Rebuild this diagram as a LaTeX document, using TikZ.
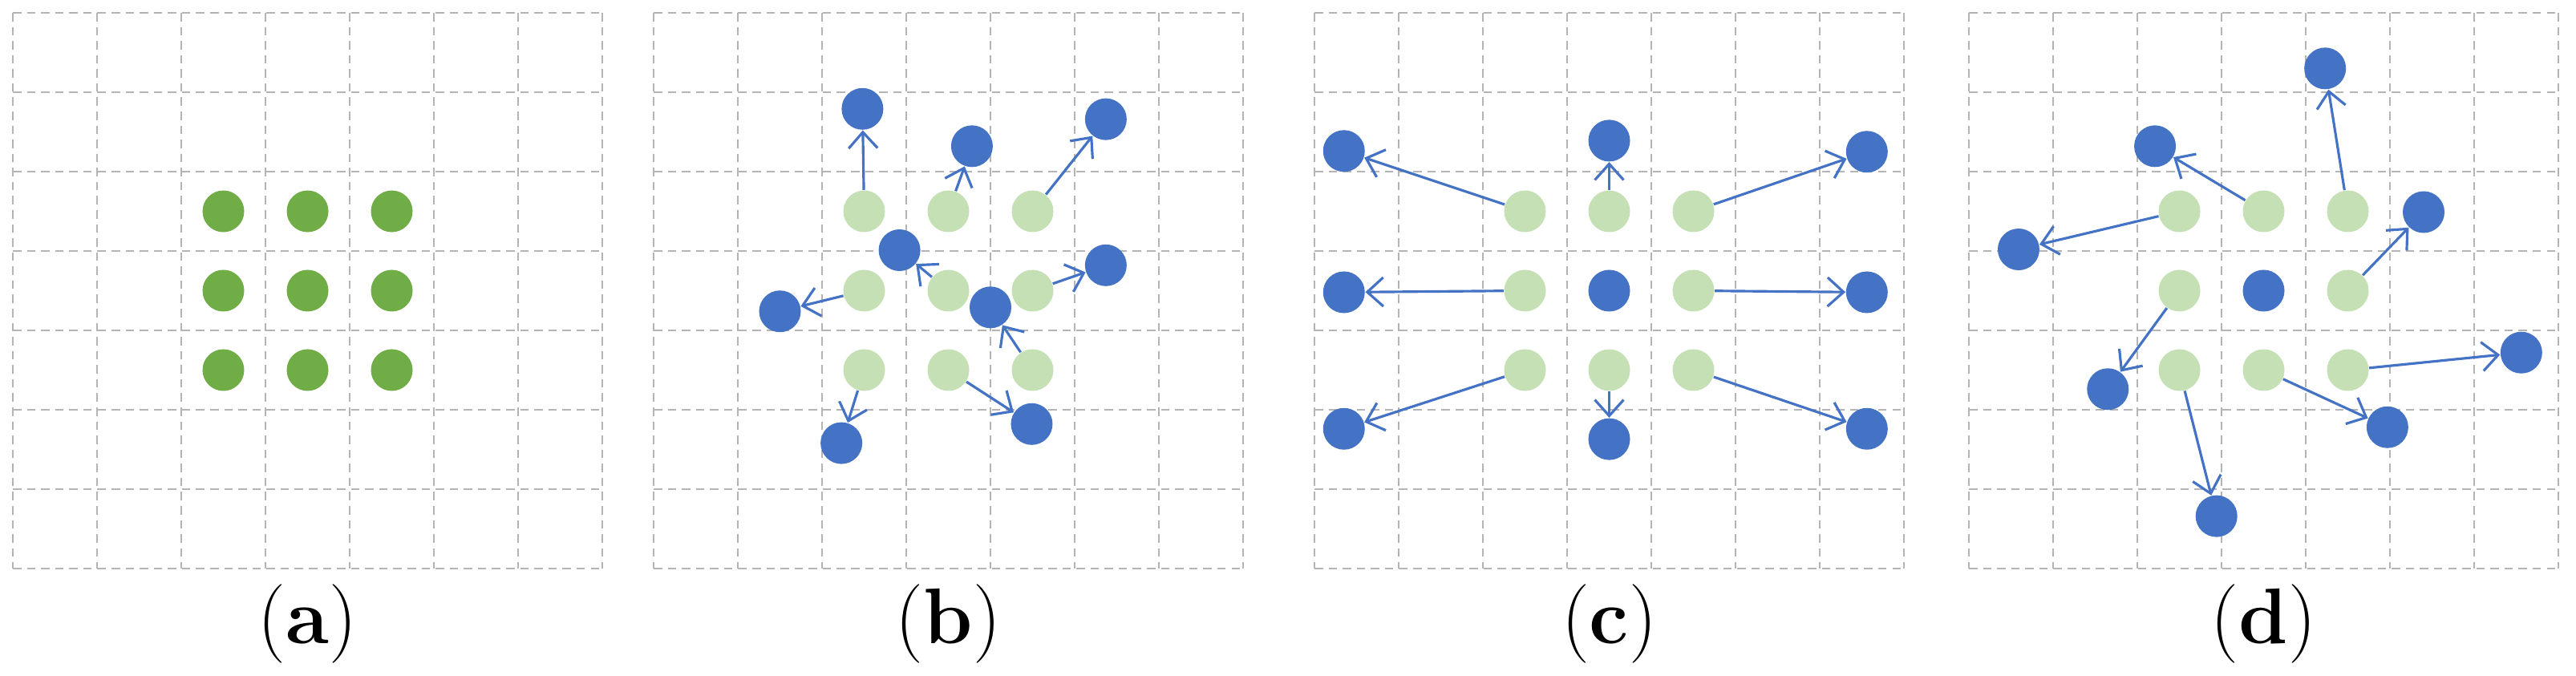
\documentclass[tikz,border=0pt]{standalone}
\usetikzlibrary{arrows.meta}
\definecolor{dg}{HTML}{70AD47}
\definecolor{lg}{HTML}{C5E0B4}
\definecolor{bl}{HTML}{4472C4}
\definecolor{gr}{HTML}{B4B4B4}
\tikzset{
 gl/.style={draw=gr,line width=0.6pt,dash pattern=on 3pt off 2pt},
 dot/.style={circle,inner sep=0pt,minimum size=0.52cm},
 gdot/.style={dot,fill=dg},
 ldot/.style={dot,fill=lg},
 bdot/.style={dot,fill=bl},
 arr/.style={draw=bl,line width=0.9pt,-{Straight Barb[length=0.2cm,width=0.36cm,line width=0.9pt]}},
 lab/.style={font=\fontsize{28}{30}\selectfont}
}
\newcommand{\mygrid}{\foreach \i in {0,...,7}{\draw[gl] (\i,0) -- (\i,7); \draw[gl] (0,\i) -- (7,\i);}}
\begin{document}
\begin{tikzpicture}
\useasboundingbox (0,0) rectangle (32.12,8.43);
% (a)
\begin{scope}[shift={(0.16,8.27)},x=1.05cm,y=-0.99cm]
\mygrid
\foreach \c in {2,3,4}\foreach \r in {2,3,4}{\node[gdot] (a\c\r) at (\c+0.5,\r+0.5) {};}
\node[lab] (la) at (3.5,7.7) {(\textbf{a})};
\end{scope}
% (b)
\begin{scope}[shift={(8.15,8.27)},x=1.05cm,y=-0.99cm]
\mygrid
\foreach \c in {2,3,4}\foreach \r in {2,3,4}{\node[ldot] (b\c\r) at (\c+0.5,\r+0.5) {};}
\node[bdot] (bb1) at (2.48,1.21) {};
\node[bdot] (bb2) at (3.78,1.68) {};
\node[bdot] (bb3) at (5.37,1.34) {};
\node[bdot] (bb4) at (1.5,3.76) {};
\node[bdot] (bb5) at (2.92,2.99) {};
\node[bdot] (bb6) at (5.37,3.18) {};
\node[bdot] (bb7) at (4.0,3.71) {};
\node[bdot] (bb8) at (4.49,5.18) {};
\node[bdot] (bb9) at (2.23,5.42) {};
\draw[arr] (b22) -- (bb1);
\draw[arr] (b32) -- (bb2);
\draw[arr] (b42) -- (bb3);
\draw[arr] (b23) -- (bb4);
\draw[arr] (b33) -- (bb5);
\draw[arr] (b43) -- (bb6);
\draw[arr] (b44) -- (bb7);
\draw[arr] (b34) -- (bb8);
\draw[arr] (b24) -- (bb9);
\node[lab] (lb) at (3.5,7.7) {(\textbf{b})};
\end{scope}
% (c)
\begin{scope}[shift={(16.39,8.27)},x=1.05cm,y=-0.99cm]
\mygrid
\foreach \c/\r in {2/2,3/2,4/2,2/3,4/3,2/4,3/4,4/4}{\node[ldot] (c\c\r) at (\c+0.5,\r+0.5) {};}
\node[bdot] (c33) at (3.5,3.5) {};
\node[bdot] (cb1) at (0.35,1.74) {};
\node[bdot] (cb2) at (3.5,1.61) {};
\node[bdot] (cb3) at (6.56,1.75) {};
\node[bdot] (cb4) at (0.35,3.52) {};
\node[bdot] (cb6) at (6.56,3.52) {};
\node[bdot] (cb7) at (0.35,5.24) {};
\node[bdot] (cb8) at (3.5,5.37) {};
\node[bdot] (cb9) at (6.56,5.24) {};
\draw[arr] (c22) -- (cb1);
\draw[arr] (c32) -- (cb2);
\draw[arr] (c42) -- (cb3);
\draw[arr] (c23) -- (cb4);
\draw[arr] (c43) -- (cb6);
\draw[arr] (c24) -- (cb7);
\draw[arr] (c34) -- (cb8);
\draw[arr] (c44) -- (cb9);
\node[lab] (lc) at (3.5,7.7) {(\textbf{c})};
\end{scope}
% (d)
\begin{scope}[shift={(24.55,8.27)},x=1.05cm,y=-0.99cm]
\mygrid
\foreach \c/\r in {2/2,3/2,4/2,2/3,4/3,2/4,3/4,4/4}{\node[ldot] (d\c\r) at (\c+0.5,\r+0.5) {};}
\node[bdot] (d33) at (3.5,3.5) {};
\node[bdot] (db1) at (0.59,2.98) {};
\node[bdot] (db2) at (2.21,1.68) {};
\node[bdot] (db3) at (4.23,0.70) {};
\node[bdot] (db4) at (1.65,4.74) {};
\node[bdot] (db6) at (5.4,2.51) {};
\node[bdot] (db7) at (2.94,6.34) {};
\node[bdot] (db8) at (4.97,5.22) {};
\node[bdot] (db9) at (6.56,4.28) {};
\draw[arr] (d22) -- (db1);
\draw[arr] (d32) -- (db2);
\draw[arr] (d42) -- (db3);
\draw[arr] (d23) -- (db4);
\draw[arr] (d43) -- (db6);
\draw[arr] (d24) -- (db7);
\draw[arr] (d34) -- (db8);
\draw[arr] (d44) -- (db9);
\node[lab] (ld) at (3.5,7.7) {(\textbf{d})};
\end{scope}
\end{tikzpicture}
\end{document}
